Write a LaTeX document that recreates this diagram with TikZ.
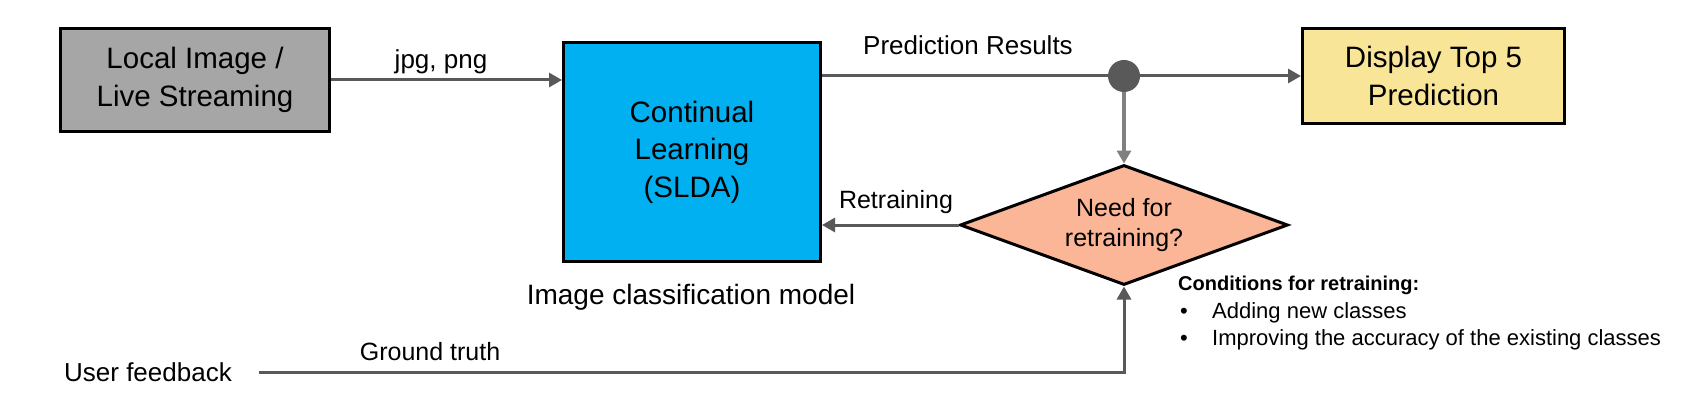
\documentclass[tikz,border=0pt]{standalone}
\usepackage{fontspec}
\setmainfont{Liberation Sans}
\usetikzlibrary{arrows.meta,shapes.geometric}
\definecolor{boxgray}{HTML}{A6A6A6}
\definecolor{boxblue}{HTML}{00B0F0}
\definecolor{boxyellow}{HTML}{F8E597}
\definecolor{boxsalmon}{HTML}{FBB597}
\definecolor{conn}{HTML}{595959}
\definecolor{connlight}{HTML}{808080}
\tikzset{
  blk/.style={draw=black, line width=3pt, inner sep=0pt, align=center, font=\fontsize{29.5}{37.5}\selectfont},
  lbl/.style={inner sep=0pt, font=\fontsize{25}{30}\selectfont},
  conarrow/.style={draw=conn, line width=3pt, -{Triangle[length=13pt,width=14pt]}},
  conline/.style={draw=conn, line width=3pt},
}
\begin{document}
\begin{tikzpicture}[x=1pt,y=-1pt]
\useasboundingbox (0,0) rectangle (1685,401);
\node[blk, fill=boxgray, minimum width=269pt, minimum height=103pt] (src) at (195,80) {Local Image /\\Live Streaming};
\node[blk, fill=boxblue, minimum width=257pt, minimum height=219pt] (cl) at (692,152) {Continual\\Learning\\(SLDA)};
\node[blk, fill=boxyellow, minimum width=262pt, minimum height=95pt] (disp) at (1433.5,76) {Display Top 5\\Prediction};
\node[circle, fill=conn, minimum size=32pt, inner sep=0pt] (dot) at (1124,76) {};
\node[diamond, draw=black, line width=3pt, fill=boxsalmon, minimum width=328pt, minimum height=120pt, aspect=2.73, inner sep=0pt, align=center, font=\fontsize{25}{30}\selectfont] (need) at (1124,225) {Need for\\retraining?};
\node[lbl, font=\fontsize{26}{30}\selectfont] (ufb) at (148,372) {User feedback};
\coordinate (ufs) at (259,372);

\draw[conarrow] (src.east) -- (src.east -| cl.west);
\draw[conline] (cl.east |- dot) -- (dot);
\draw[conarrow] (dot) -- (disp.west);
\draw[draw=connlight, line width=4pt, -{Triangle[length=13pt,width=14pt]}] (dot.south) -- (need.north);
\draw[conarrow] (need.west) -- (need.west -| cl.east);
\draw[conarrow] (ufs) -| (need.south);

\node[lbl, font=\fontsize{26}{30}\selectfont] (jpg) at (441,62) {jpg, png};
\node[lbl, font=\fontsize{26}{30}\selectfont] (pred) at (968,45) {Prediction Results};
\node[lbl] (retr) at (896,202) {Retraining};
\node[lbl, font=\fontsize{28}{30}\selectfont] (icm) at (691,297) {Image classification model};
\node[lbl] (gt) at (430,352) {Ground truth};
\node[lbl, anchor=west, font=\bfseries\fontsize{20}{24}\selectfont] (cond) at (1178,285) {Conditions for retraining:};
\node[lbl, font=\fontsize{22}{24}\selectfont] (b1) at (1184,313) {•};
\node[lbl, font=\fontsize{22}{24}\selectfont] (b2) at (1184,340) {•};
\node[lbl, anchor=west, font=\fontsize{22}{24}\selectfont] (c1) at (1212,313) {Adding new classes};
\node[lbl, anchor=west, font=\fontsize{22}{24}\selectfont] (c2) at (1212,340) {Improving the accuracy of the existing classes};
\end{tikzpicture}
\end{document}
